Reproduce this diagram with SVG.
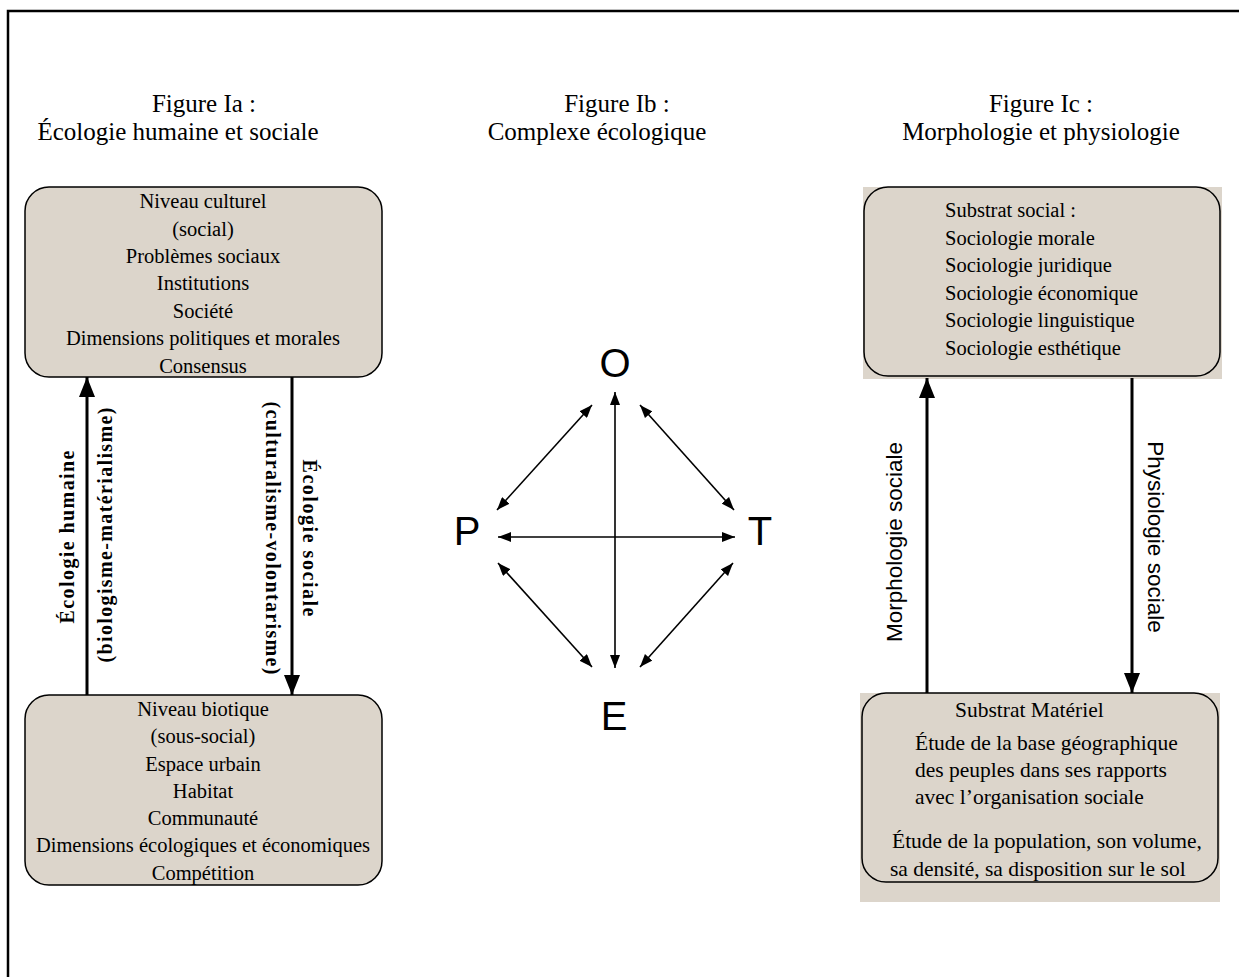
<svg xmlns="http://www.w3.org/2000/svg" width="1239" height="977" viewBox="0 0 1239 977">
<style>
.serif{font-family:"Liberation Serif","Times New Roman",serif;fill:#000}
.title{font-size:25px}
.box{font-size:20.5px}
.boxb{font-size:21.5px}
.bold{font-size:20px;font-weight:bold}
.sans{font-family:"Liberation Sans",Arial,sans-serif;fill:#000}
.letter{font-size:40px}
.rot{font-size:22.5px}
.bg{fill:#dcd5cb}
.frame{fill:#dcd5cb;stroke:#000;stroke-width:1.5}
.edge{fill:none;stroke:#000;stroke-width:1.5}
.thick{stroke:#000;stroke-width:3;fill:none}
.thin{stroke:#000;stroke-width:1.6;fill:none}
</style>
<defs>
<marker id="big" viewBox="0 0 20 16" refX="20" refY="8" markerWidth="20" markerHeight="16" markerUnits="userSpaceOnUse" orient="auto-start-reverse"><path d="M0,0 L20,8 L0,16 z" fill="#000"/></marker>
<marker id="small" viewBox="0 0 13 10" refX="13" refY="5" markerWidth="13" markerHeight="10" markerUnits="userSpaceOnUse" orient="auto-start-reverse"><path d="M0,0 L13,5 L0,10 z" fill="#000"/></marker>
</defs>
<rect x="0" y="0" width="1239" height="977" fill="#fff"/>
<rect x="8" y="11" width="1260" height="1000" fill="none" stroke="#000" stroke-width="2.5"/>

<g id="titles" class="serif title">
<text x="204" y="112" text-anchor="middle">Figure Ia :</text>
<text x="178" y="140" text-anchor="middle">Écologie humaine et sociale</text>
<text x="617" y="112" text-anchor="middle">Figure Ib :</text>
<text x="597" y="140" text-anchor="middle">Complexe écologique</text>
<text x="1041" y="112" text-anchor="middle">Figure Ic :</text>
<text x="1041" y="140" text-anchor="middle">Morphologie et physiologie</text>
</g>

<g id="niveau-culturel">
<rect class="frame" x="25" y="187" width="357" height="190" rx="24" ry="24"/>
<g class="serif box" text-anchor="middle">
<text x="203" y="208">Niveau culturel</text>
<text x="203" y="236">(social)</text>
<text x="203" y="263">Problèmes sociaux</text>
<text x="203" y="290">Institutions</text>
<text x="203" y="318">Société</text>
<text x="203" y="345">Dimensions politiques et morales</text>
<text x="203" y="373">Consensus</text>
</g>
</g>

<g id="niveau-biotique">
<rect class="frame" x="25" y="695" width="357" height="190" rx="24" ry="24"/>
<g class="serif box" text-anchor="middle">
<text x="203" y="716">Niveau biotique</text>
<text x="203" y="743">(sous-social)</text>
<text x="203" y="771">Espace urbain</text>
<text x="203" y="798">Habitat</text>
<text x="203" y="825">Communauté</text>
<text x="203" y="852">Dimensions écologiques et économiques</text>
<text x="203" y="880">Compétition</text>
</g>
</g>

<g id="substrat-social">
<rect class="bg" x="863" y="187" width="359" height="192"/>
<rect class="edge" x="864" y="187" width="356" height="189" rx="24" ry="24"/>
<g class="serif box">
<text x="945" y="217">Substrat social :</text>
<text x="945" y="245">Sociologie morale</text>
<text x="945" y="272">Sociologie juridique</text>
<text x="945" y="300">Sociologie économique</text>
<text x="945" y="327">Sociologie linguistique</text>
<text x="945" y="355">Sociologie esthétique</text>
</g>
</g>

<g id="substrat-materiel">
<rect class="bg" x="860" y="693" width="360" height="209"/>
<rect class="edge" x="862" y="693" width="356" height="189" rx="24" ry="24"/>
<g class="serif boxb">
<text x="955" y="717">Substrat Matériel</text>
<text x="915" y="750">Étude de la base géographique</text>
<text x="915" y="777">des peuples dans ses rapports</text>
<text x="915" y="804">avec l’organisation sociale</text>
<text x="892" y="848">Étude de la population, son volume,</text>
<text x="890" y="876">sa densité, sa disposition sur le sol</text>
</g>
</g>

<g id="letters" class="sans letter" text-anchor="middle">
<text id="node-O" x="615" y="377">O</text>
<text id="node-P" x="467" y="545">P</text>
<text id="node-T" x="760" y="545">T</text>
<text id="node-E" x="614" y="730">E</text>
</g>

<g id="connectors">
<line class="thick" x1="87" y1="695" x2="87" y2="377" marker-end="url(#big)"/>
<line class="thick" x1="292" y1="377" x2="292" y2="695" marker-end="url(#big)"/>
<line class="thick" x1="927" y1="693" x2="927" y2="378" marker-end="url(#big)"/>
<line class="thick" x1="1132" y1="378" x2="1132" y2="693" marker-end="url(#big)"/>
<line class="thin" x1="615" y1="392" x2="615" y2="668" marker-start="url(#small)" marker-end="url(#small)"/>
<line class="thin" x1="498" y1="537" x2="735" y2="537" marker-start="url(#small)" marker-end="url(#small)"/>
<line class="thin" x1="592" y1="405" x2="497" y2="510" marker-start="url(#small)" marker-end="url(#small)"/>
<line class="thin" x1="640" y1="405" x2="734" y2="510" marker-start="url(#small)" marker-end="url(#small)"/>
<line class="thin" x1="498" y1="563" x2="592" y2="667" marker-start="url(#small)" marker-end="url(#small)"/>
<line class="thin" x1="733" y1="563" x2="640" y2="667" marker-start="url(#small)" marker-end="url(#small)"/>
</g>

<g id="connector-labels">
<text class="serif bold" transform="translate(74,537) rotate(-90)" text-anchor="middle" textLength="173" lengthAdjust="spacing">Écologie humaine</text>
<text class="serif bold" transform="translate(112,535) rotate(-90)" text-anchor="middle" textLength="255" lengthAdjust="spacing">(biologisme-matérialisme)</text>
<text class="serif bold" transform="translate(303,538) rotate(90)" text-anchor="middle" textLength="157" lengthAdjust="spacing">Écologie sociale</text>
<text class="serif bold" transform="translate(266,538) rotate(90)" text-anchor="middle" textLength="273" lengthAdjust="spacing">(culturalisme-volontarisme)</text>
<text class="sans rot" transform="translate(902,542) rotate(-90)" text-anchor="middle">Morphologie sociale</text>
<text class="sans rot" transform="translate(1148,537) rotate(90)" text-anchor="middle">Physiologie sociale</text>
</g>
</svg>
